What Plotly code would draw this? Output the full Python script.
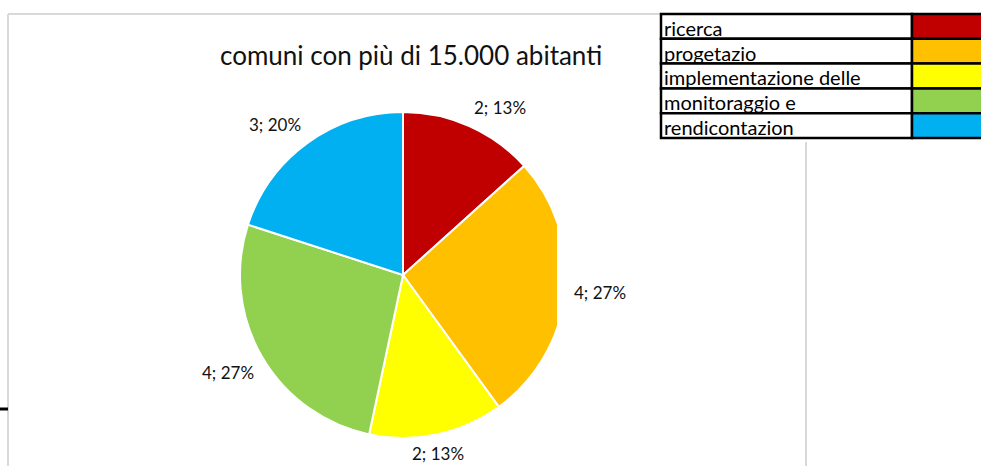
import math
import plotly.graph_objects as go

W, H = 981, 466

# ---------------- data ----------------
categories = ["ricerca", "progettazione", "implementazione delle attività",
              "monitoraggio e valutazione", "rendicontazione"]
table_labels = ["ricerca", "progetazio", "implementazione delle",
                "monitoraggio e", "rendicontazion"]
values = [2, 4, 2, 4, 3]
colors = ["#C00000", "#FFC000", "#FFFF00", "#92D050", "#00B0F0"]
title_text = "comuni con più di 15.000 abitanti"

FONT = "Lato"

def px(x):
    return x / W

def py(y):
    return 1 - y / H

# pie geometry (pixels)
cx, cy, R = 403, 275, 163

fig = go.Figure()
fig.add_trace(go.Pie(
    labels=categories, values=values, sort=False, direction="clockwise",
    rotation=0, textinfo="none", hoverinfo="label+value+percent",
    marker=dict(colors=colors, line=dict(color="white", width=2)),
    domain=dict(x=[px(cx - R), px(cx + R)], y=[py(cy + R), py(cy - R)]),
    showlegend=False,
))

annotations = []
shapes = []

# data labels: placed outside each slice at its mid angle,
# with the label corner nearest to the pie touching a circle of radius R+7
total = sum(values)
cum = 0
for v in values:
    mid = (cum + v / 2) / total * 2 * math.pi
    cum += v
    s, c = math.sin(mid), math.cos(mid)
    d = R + 7
    ax, ay = cx + d * s, cy - d * c
    if abs(s) < 0.3:
        xa = "center"
    else:
        xa = "left" if s > 0 else "right"
    if abs(c) < 0.3:
        ya = "middle"
    else:
        ya = "bottom" if c > 0 else "top"
    annotations.append(dict(
        x=px(ax), y=py(ay), xref="paper", yref="paper",
        text=f"{v}; {round(100 * v / total)}%", showarrow=False,
        xanchor=xa, yanchor=ya,
        font=dict(family=FONT, size=17, color="#111111"),
    ))

# title
annotations.append(dict(
    x=px(411), y=py(55), xref="paper", yref="paper", text=title_text,
    showarrow=False, xanchor="center", yanchor="middle",
    font=dict(family=FONT, size=26, color="#111111"),
))

# clip of the pie on the right side
shapes.append(dict(type="rect", xref="paper", yref="paper",
                   x0=px(557), x1=px(580), y0=py(445), y1=py(100),
                   fillcolor="white", line=dict(width=0), layer="above"))

# chart-area frame lines
gray = "#d9d9d9"
shapes.append(dict(type="line", xref="paper", yref="paper",
                   x0=px(8), x1=px(661), y0=py(14), y1=py(14),
                   line=dict(color=gray, width=2)))
shapes.append(dict(type="line", xref="paper", yref="paper",
                   x0=px(8), x1=px(8), y0=py(14), y1=py(470),
                   line=dict(color=gray, width=2)))
shapes.append(dict(type="line", xref="paper", yref="paper",
                   x0=px(806), x1=px(806), y0=py(142), y1=py(470),
                   line=dict(color=gray, width=2)))
shapes.append(dict(type="line", xref="paper", yref="paper",
                   x0=px(0), x1=px(8), y0=py(409), y1=py(409),
                   line=dict(color="black", width=3)))

# legend table
top, row_h = 14, 24.8
xl, xd, xr = 661, 912, 995
for i, (lab, col) in enumerate(zip(table_labels, colors)):
    y0 = top + i * row_h
    y1 = y0 + row_h
    shapes.append(dict(type="rect", xref="paper", yref="paper",
                       x0=px(xl), x1=px(xd), y0=py(y1), y1=py(y0),
                       fillcolor="white", line=dict(color="black", width=2.5),
                       layer="above"))
    shapes.append(dict(type="rect", xref="paper", yref="paper",
                       x0=px(xd), x1=px(xr), y0=py(y1), y1=py(y0),
                       fillcolor=col, line=dict(color="black", width=2.5),
                       layer="above"))
    annotations.append(dict(
        x=px(xl + 1), y=py(y1 + 3), xref="paper", yref="paper", text=lab,
        showarrow=False, xanchor="left", yanchor="bottom",
        font=dict(family=FONT, size=20, color="black"),
    ))

fig.update_layout(
    width=W, height=H, margin=dict(l=0, r=0, t=0, b=0),
    paper_bgcolor="white", plot_bgcolor="white",
    annotations=annotations, shapes=shapes,
)

fig.write_html("out.html",
               config={"displayModeBar": False},
               post_script="document.body.style.margin='0';"
                           "document.body.style.overflow='hidden';")
